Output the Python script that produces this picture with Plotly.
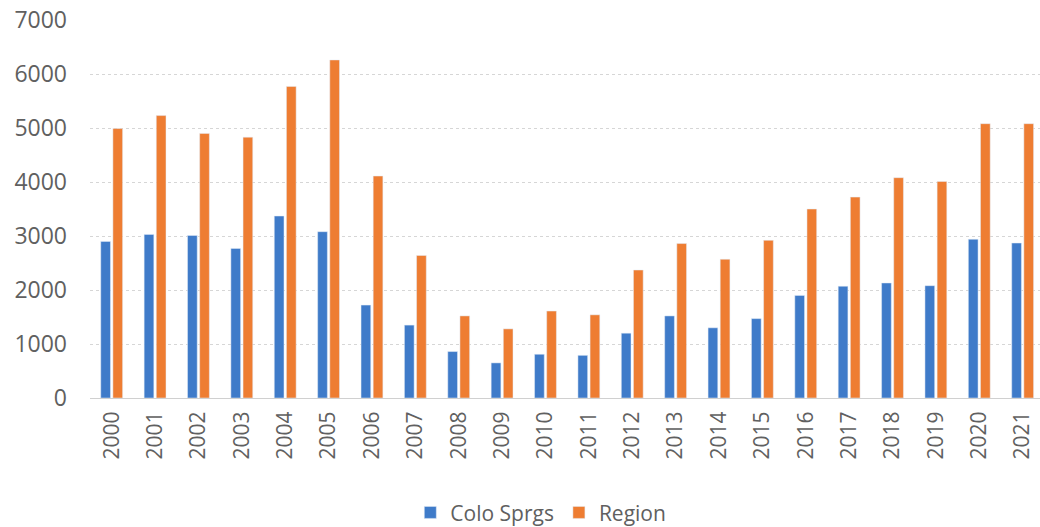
import plotly.graph_objects as go

years = [str(y) for y in range(2000, 2022)]
colo_sprgs = [2900, 3030, 3010, 2770, 3370, 3080, 1720, 1350, 860, 650, 810, 790,
              1200, 1520, 1300, 1470, 1900, 2070, 2130, 2080, 2940, 2870]
region = [4990, 5230, 4900, 4830, 5770, 6260, 4110, 2640, 1520, 1280, 1610, 1540,
          2370, 2860, 2570, 2920, 3500, 3720, 4080, 4010, 5080, 5080]
y_ticks = [0, 1000, 2000, 3000, 4000, 5000, 6000, 7000]

blue = "#3f7bc9"
orange = "#ee7d32"
text_color = "#606060"
font_family = "Open Sans, Liberation Sans, sans-serif"

fig = go.Figure()
fig.add_trace(go.Bar(x=years, y=colo_sprgs, name="Colo Sprgs", marker_color=blue))
fig.add_trace(go.Bar(x=years, y=region, name="Region", marker_color=orange))

fig.update_layout(
    width=1040,
    height=527,
    margin=dict(l=90, r=0, t=20, b=129, autoexpand=False),
    paper_bgcolor="white",
    plot_bgcolor="white",
    barmode="group",
    bargap=0.44,
    bargroupgap=0.2,
    font=dict(family=font_family, color=text_color),
    showlegend=True,
    legend=dict(
        orientation="h",
        x=0.52,
        xanchor="center",
        xref="container",
        y=0.027,
        yanchor="middle",
        yref="container",
        font=dict(size=21, color=text_color),
        itemwidth=30,
    ),
)

fig.update_xaxes(
    type="category",
    range=[-0.5, 21.4],
    tickangle=-90,
    tickfont=dict(size=21, color=text_color),
    showgrid=False,
    showline=True,
    linecolor="#d0d0d0",
    linewidth=1,
    ticks="",
    ticklabelstandoff=4,
    automargin=False,
)

fig.update_yaxes(
    range=[0, 7000],
    tickvals=y_ticks,
    tickfont=dict(size=23, color=text_color),
    showgrid=True,
    gridcolor="#d6d6d6",
    griddash="dot",
    gridwidth=1,
    zeroline=False,
    showline=False,
    ticks="",
    ticklabelstandoff=22,
    automargin=False,
)

fig.write_html("out.html")
